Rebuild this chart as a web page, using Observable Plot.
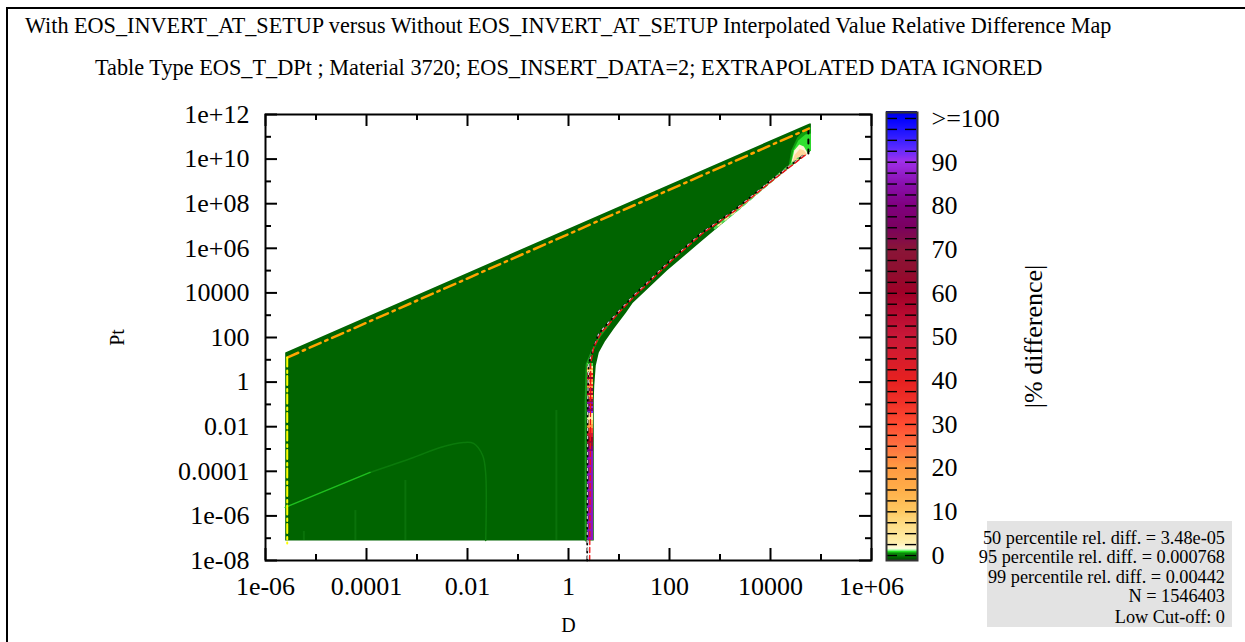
<!DOCTYPE html>
<html><head><meta charset="utf-8">
<script src="https://cdn.jsdelivr.net/npm/d3@7"></script>
<script src="https://cdn.jsdelivr.net/npm/@observablehq/plot@0.6"></script>
<style>
html,body{margin:0;padding:0;background:#fff;width:1245px;height:642px;overflow:hidden}
#page{position:relative;width:1245px;height:642px;font-family:"Liberation Serif",serif;color:#000}
#page svg{position:absolute;top:0;overflow:visible}
.border{position:absolute;left:6px;top:7px;right:0;bottom:0;border-top:2px solid #000;border-left:2px solid #000}
.ttl{position:absolute;white-space:nowrap;line-height:1}
#stats{position:absolute;left:987px;top:521px;width:245px;height:106px;background:#e3e3e3}
#stats div{position:absolute;right:7px;font-size:18.25px;line-height:1;white-space:nowrap}
</style></head><body>
<div id="page"></div>
<script>
// ---------- text ----------
const titleText = "With EOS_INVERT_AT_SETUP versus Without EOS_INVERT_AT_SETUP Interpolated Value Relative Difference Map";
const subtitleText = "Table Type EOS_T_DPt ; Material 3720; EOS_INSERT_DATA=2; EXTRAPOLATED DATA IGNORED";
const statLines = ["50 percentile rel. diff. = 3.48e-05","95 percentile rel. diff. = 0.000768","99 percentile rel. diff. = 0.00442","N = 1546403","Low Cut-off: 0"];
// ---------- axes ----------
const xLabelled = [1e-6,1e-4,1e-2,1,1e2,1e4,1e6];
const xLabels = ["1e-06","0.0001","0.01","1","100","10000","1e+06"];
const xMinor = [1e-5,1e-3,1e-1,1e1,1e3,1e5];
const yLabelled = [1e-8,1e-6,1e-4,1e-2,1,1e2,1e4,1e6,1e8,1e10,1e12];
const yLabels = ["1e-08","1e-06","0.0001","0.01","1","100","10000","1e+06","1e+08","1e+10","1e+12"];
const yMinor = [1e-7,1e-5,1e-3,1e-1,1e1,1e3,1e5,1e7,1e9,1e11];
// ---------- colour scale ----------
const colorStops = [-1.2,-0.6,0.2,0.6,1,1.4,3,7,10,15,20,25,30,35,40,50,55,60,65,70,75,80,85,90,93,96,100,100.8,101.4];
const colorRange = ["#004a00","#006400","#0a8a0a","#20e020","#aaffaa","#fffde0","#ffeea8","#ffdc84","#ffc860","#ffad48","#ff9a42","#ff7040","#ff4a30","#f03028","#e62020","#c81838","#b80a30","#a00028","#8f0f30","#8a1538","#7a0060","#800080","#8a10b0","#a030ec","#5a2aff","#2a1aff","#0000ff","#0000e0","#000090"];
const legendTicks = [0,2.5,5,7.5,10,12.5,15,17.5,20,22.5,25,27.5,30,32.5,35,37.5,40,42.5,45,47.5,50,52.5,55,57.5,60,62.5,65,67.5,70,72.5,75,77.5,80,82.5,85,87.5,90,92.5,95,97.5,100];
const legendLabelled = [0,10,20,30,40,50,60,70,80,90,100];
// ---------- table region outline (log10 D, log10 Pt) ----------
const outlineLogD = [-5.61,4.77,4.80,4.80,4.10,3.40,2.60,1.95,1.27,1.14,0.90,0.72,0.60,0.54,0.51,0.50,0.50,-5.61];
const outlineLogP = [1.33,11.60,11.60,10.39,9.13,7.78,6.26,5.00,3.55,3.12,2.40,1.82,1.33,0.74,-0.15,-0.83,-7.10,-7.10];
// ---------- difference map features ----------
const ridgeBrightD = [-5.61,-3.93];
const ridgeBrightP = [-5.62,-4.05];
const ridgeDimD = [-3.93,-3.07,-2.54,-2.08,-1.88,-1.70,-1.64,-1.64];
const ridgeDimP = [-4.05,-3.38,-2.93,-2.71,-2.75,-3.29,-4.10,-7.10];
const streakD = [-5.24,-4.22,-3.23,-0.24];
const streakTopP = [-6.7,-5.76,-4.41,-1.27];
const streakBaseP = [-7.1,-7.1,-7.1,-7.1];
const seamD = [0.34,0.34,0.36,0.47,0.60,0.80];
const seamP = [-7.1,-0.8,0.8,1.4,2.0,2.6];
const bandLowP  = [-7.1,-3.1,-2.9,-2.7,-2.5,-2.3,-2.1,-1.9,-1.7,-1.4,-1.3,-1.2,-1.1,-1.0,-0.9,-0.8,-0.7,-0.6,-0.5,-0.4,-0.3,-0.2,-0.1,0.0,0.1,0.2,0.3,0.4,0.5,0.6,0.7];
const bandHighP = [-3.1,-2.9,-2.7,-2.5,-2.3,-2.1,-1.9,-1.7,-1.4,-1.3,-1.2,-1.1,-1.0,-0.9,-0.8,-0.7,-0.6,-0.5,-0.4,-0.3,-0.2,-0.1,0.0,0.1,0.2,0.3,0.4,0.5,0.6,0.7,0.85];
const bandValue = [86,80,68,60,48,32,20,10,3,92,78,88,66,84,70,30,12,58,25,72,18,35,8,22,60,14,40,6,15,3,0.7];
// ---------- plume at the top right corner ----------
const plumeOuterD = [4.35,4.41,4.53,4.70,4.80,4.80];
const plumeOuterP = [9.58,10.39,10.97,11.37,11.46,10.39];
const plumeMidD = [4.39,4.45,4.55,4.69,4.80,4.80];
const plumeMidP = [9.71,10.39,10.83,11.10,11.15,10.39];
const plumeCoreD = [4.41,4.47,4.57,4.66,4.74];
const plumeCoreP = [9.80,10.39,10.65,10.57,10.25];
const plumeTanD = [4.42,4.48,4.58,4.66,4.72];
const plumeTanP = [9.78,10.20,10.45,10.40,10.22];
const edgeGlowD = [2.90,3.40,4.10,4.55];
const edgeGlowP = [6.90,7.83,9.18,10.02];
// ---------- boundary curves ----------
const blackD = [0.37,0.38,0.40,0.50,0.60,0.74,0.97,1.29,1.97,2.62,3.28,4.01,4.70];
const blackP = [-8,-0.83,0.83,1.55,2.18,2.54,3.12,3.88,5.36,6.66,7.70,9.04,10.25];
const redD = [0.42,0.44,0.50,0.64,0.78,1.00,1.32,2.00,2.65,3.31,4.04,4.70];
const redP = [-8,0.83,1.55,2.18,2.54,3.12,3.88,5.36,6.66,7.70,9.04,10.20];
const blackEndD = [4.75,4.75];
const blackEndP = [10.25,11.5];
const orangeD = [-5.57,4.76];
const orangeP = [1.10,11.37];
const yellowD = [-5.57,-5.57];
const yellowP = [1.10,-7.24];

const rows = (ds, ps) => ds.map((d, i) => ({D: 10 ** d, P: 10 ** ps[i]}));
const colorOpts = {type: "linear", domain: colorStops, range: colorRange, clamp: true};
const serif = "'Liberation Serif', serif";
const poly = (ds, ps, fill) => Plot.line(rows(ds, ps), {x: "D", y: "P", fill, stroke: "none"});
const curve = (ds, ps, o) => Plot.line(rows(ds, ps), {x: "D", y: "P", fill: "none", ...o});
const bands = bandValue.map((v, i) => ({low: 10 ** bandLowP[i], high: 10 ** bandHighP[i], v, left: 10 ** 0.38, right: 10 ** 0.50}));
const streaks = streakD.map((d, i) => ({D: 10 ** d, top: 10 ** streakTopP[i], base: 10 ** streakBaseP[i]}));
const xFmt = d => xLabels[xLabelled.indexOf(d)];
const yFmt = d => yLabels[yLabelled.indexOf(d)];
const FH = 446, FW = 606;

const main = Plot.plot({
  width: 1245, height: 642,
  marginLeft: 265, marginRight: 374, marginTop: 114, marginBottom: 82,
  style: {fontFamily: serif, background: "transparent", color: "#000"},
  x: {type: "log", domain: [1e-6, 1e6], axis: null},
  y: {type: "log", domain: [1e-8, 1e12], axis: null},
  color: colorOpts,
  marks: [
    poly(outlineLogD, outlineLogP, "#006400"),
    Plot.ruleX(streaks, {x: "D", y1: "base", y2: "top", stroke: "#0a720a", strokeWidth: 2}),
    curve(ridgeDimD, ridgeDimP, {stroke: "#0b7a0b", strokeWidth: 1.5, curve: "catmull-rom"}),
    curve(ridgeBrightD, ridgeBrightP, {stroke: "#1fc01f", strokeWidth: 1.5}),
    curve(seamD, seamP, {stroke: "#1c9c1c", strokeWidth: 2}),
    Plot.rect(bands, {x1: "left", x2: "right", y1: "low", y2: "high", fill: "v", shapeRendering: "crispEdges"}),
    poly(plumeOuterD, plumeOuterP, "#0fa00f"),
    poly(plumeMidD, plumeMidP, "#30e030"),
    poly(plumeCoreD, plumeCoreP, "#fff4d8"),
    poly(plumeTanD, plumeTanP, "#ffd79a"),
    curve(edgeGlowD, edgeGlowP, {stroke: "#55d855", strokeWidth: 2.5, strokeDasharray: "5,4"}),
    curve(edgeGlowD, edgeGlowP, {stroke: "#ffe9a0", strokeWidth: 1.5, strokeDasharray: "4,5", strokeDashoffset: 5}),
    curve(blackEndD, blackEndP, {stroke: "#000", strokeWidth: 2, strokeDasharray: "4,6"}),
    curve(blackD, blackP, {stroke: "#000", strokeWidth: 1.8, strokeDasharray: "4,4"}),
    curve(blackD, blackP, {stroke: "#c8c8c8", strokeWidth: 1.3, strokeDasharray: "2,6", strokeDashoffset: 6}),
    curve(redD, redP, {stroke: "#f01010", strokeWidth: 1.3, strokeDasharray: "5,3"}),
    curve(orangeD, orangeP, {stroke: "#ffa500", strokeWidth: 2.5, strokeDasharray: "12,5,2.5,5"}),
    curve(yellowD, yellowP, {stroke: "#ffff00", strokeWidth: 2, strokeDasharray: "9,4,2.5,3"}),
    Plot.ruleX(xLabelled, {x: d => d, insetTop: FH - 12, stroke: "#000", strokeWidth: 2}),
    Plot.ruleX(xMinor, {x: d => d, insetTop: FH - 6, stroke: "#000", strokeWidth: 2}),
    Plot.ruleX(xLabelled, {x: d => d, insetBottom: FH - 12, stroke: "#000", strokeWidth: 2}),
    Plot.ruleX(xMinor, {x: d => d, insetBottom: FH - 6, stroke: "#000", strokeWidth: 2}),
    Plot.ruleY(yLabelled, {y: d => d, insetRight: FW - 12, stroke: "#000", strokeWidth: 2}),
    Plot.ruleY(yMinor, {y: d => d, insetRight: FW - 6, stroke: "#000", strokeWidth: 2}),
    Plot.ruleY(yLabelled, {y: d => d, insetLeft: FW - 12, stroke: "#000", strokeWidth: 2}),
    Plot.ruleY(yMinor, {y: d => d, insetLeft: FW - 6, stroke: "#000", strokeWidth: 2}),
    Plot.frame({stroke: "#000", strokeWidth: 2}),
    Plot.axisX(xLabelled, {anchor: "bottom", tickSize: 0, tickPadding: 16, fontSize: 26, tickFormat: xFmt, label: null}),
    Plot.axisY(yLabelled, {anchor: "left", tickSize: 0, tickPadding: 16, fontSize: 26, tickFormat: yFmt, label: null}),
    Plot.text(["D"], {frameAnchor: "bottom", dy: 65, fontSize: 20, lineAnchor: "middle"}),
    Plot.text(["Pt"], {frameAnchor: "left", dx: -148, rotate: -90, fontSize: 20, textAnchor: "middle"})
  ]
});

const legendCells = d3.range(-1.14, 101.37, 0.25).map(v => ({v, hi: v + 0.25}));
const legend = Plot.plot({
  width: 300, height: 642,
  marginLeft: 0, marginRight: 269, marginTop: 112, marginBottom: 82,
  style: {fontFamily: serif, background: "transparent", color: "#000"},
  x: {domain: [0, 31], axis: null},
  y: {domain: [-1.14, 101.37], axis: null},
  color: colorOpts,
  marks: [
    Plot.rect(legendCells, {x1: 0, x2: 31, y1: "v", y2: "hi", fill: "v", shapeRendering: "crispEdges"}),
    Plot.ruleY(legendTicks, {y: d => d, x1: 1, x2: 11, stroke: "#000", strokeWidth: 1.4}),
    Plot.ruleY(legendTicks, {y: d => d, x1: 19, x2: 30, stroke: "#000", strokeWidth: 1.4}),
    Plot.frame({stroke: "#333", strokeWidth: 2}),
    Plot.axisY(legendLabelled, {anchor: "right", tickSize: 0, tickPadding: 14, fontSize: 26, label: null,
      tickFormat: d => d === 100 ? ">=100" : String(d)}),
    Plot.text(["|% difference|"], {frameAnchor: "right", dx: 116, rotate: -90, fontSize: 26, textAnchor: "middle"})
  ]
});
legend.style.left = "886px";

const page = document.getElementById("page");
const border = document.createElement("div");
border.className = "border";
page.append(border, main, legend);
[[titleText, 25, 15, 22.2], [subtitleText, 95, 57, 22.3]].forEach(([t, x, y, s]) => {
  const el = document.createElement("div");
  el.className = "ttl";
  el.textContent = t;
  el.style.cssText = `left:${x}px;top:${y}px;font-size:${s}px`;
  page.append(el);
});
const stats = document.createElement("div");
stats.id = "stats";
const statTops = [8, 27, 47, 66, 87];
statLines.forEach((t, i) => {
  const el = document.createElement("div");
  el.textContent = t;
  el.style.top = statTops[i] + "px";
  stats.append(el);
});
page.append(stats);
</script>
</body></html>
